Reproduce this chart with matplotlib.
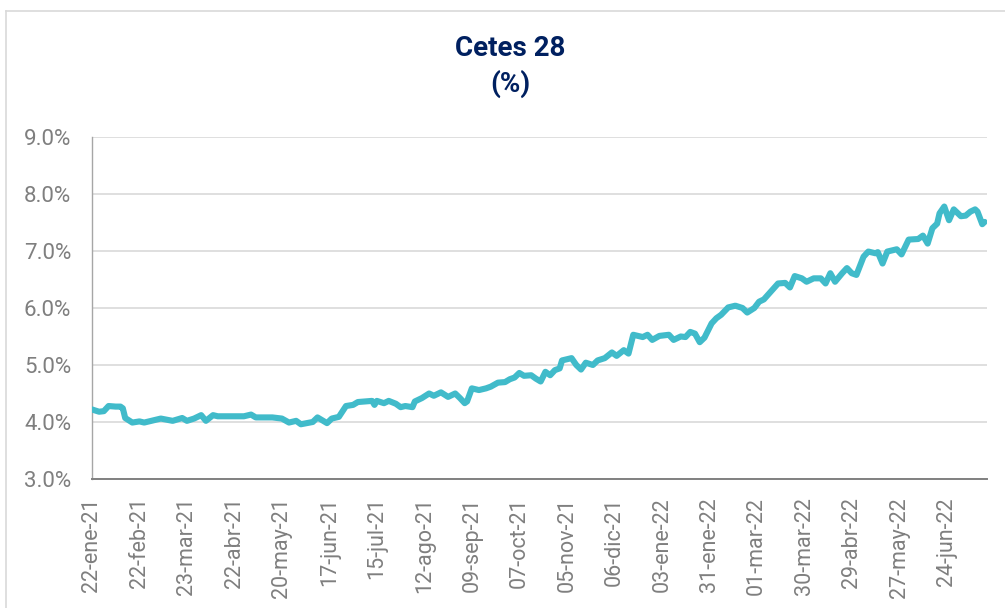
"""Cetes 28 (%) - serie diaria, eje por observación (días hábiles)."""
import matplotlib
matplotlib.use("Agg")
import matplotlib.pyplot as plt
from matplotlib.lines import Line2D

# ---- datos ----
# índice de observación (día hábil desde 22-ene-21) y tasa en %
obs = [0, 3, 5, 7, 10, 12, 13, 14, 17, 20, 22, 25, 29, 34, 38, 40, 43, 46, 48, 51,
       53, 64, 67, 69, 76, 80, 83, 86, 88, 93, 95, 99, 101, 104, 107, 110, 112, 115,
       118, 119, 120, 123, 125, 128, 130, 132, 135, 136, 139, 142, 144, 147, 150,
       153, 155, 157, 158, 160, 163, 166, 168, 171, 174, 176, 178, 180, 182, 185,
       187, 189, 191, 193, 195, 197, 198, 202, 204, 206, 208, 211, 213, 216, 219,
       221, 224, 226, 228, 232, 234, 236, 239, 243, 245, 248, 250, 252, 254, 256,
       258, 261, 263, 265, 268, 271, 274, 276, 279, 281, 283, 286, 289, 292, 294,
       296, 299, 301, 304, 307, 309, 311, 313, 316, 318, 320, 322, 325, 327, 330,
       331, 333, 335, 339, 341, 344, 348, 350, 352, 354, 356, 357, 359, 361, 363,
       366, 368, 370, 372, 373, 375, 376]
tasa = [4.22, 4.18, 4.19, 4.28, 4.27, 4.27, 4.24, 4.07, 3.99, 4.01, 3.99, 4.02, 4.06,
        4.02, 4.07, 4.02, 4.06, 4.12, 4.02, 4.12, 4.10, 4.10, 4.13, 4.08, 4.08, 4.06,
        3.99, 4.02, 3.96, 4.00, 4.08, 3.98, 4.06, 4.09, 4.28, 4.30, 4.35, 4.36, 4.37,
        4.30, 4.37, 4.33, 4.37, 4.32, 4.26, 4.28, 4.26, 4.36, 4.42, 4.50, 4.46, 4.52,
        4.44, 4.50, 4.42, 4.33, 4.36, 4.59, 4.56, 4.59, 4.62, 4.69, 4.70, 4.75, 4.78,
        4.86, 4.81, 4.82, 4.76, 4.71, 4.88, 4.82, 4.91, 4.94, 5.08, 5.12, 5.00, 4.92,
        5.04, 5.00, 5.08, 5.12, 5.22, 5.16, 5.26, 5.20, 5.53, 5.49, 5.53, 5.44, 5.51,
        5.53, 5.44, 5.50, 5.49, 5.58, 5.55, 5.40, 5.48, 5.73, 5.82, 5.88, 6.01, 6.04,
        6.00, 5.92, 6.00, 6.11, 6.15, 6.29, 6.43, 6.44, 6.36, 6.56, 6.52, 6.46, 6.52,
        6.52, 6.43, 6.61, 6.46, 6.61, 6.70, 6.61, 6.58, 6.90, 6.99, 6.96, 6.98, 6.78,
        6.99, 7.03, 6.94, 7.20, 7.21, 7.27, 7.13, 7.40, 7.48, 7.66, 7.78, 7.54, 7.73,
        7.61, 7.62, 7.69, 7.73, 7.69, 7.47, 7.51]

tick_obs = [0, 20, 40, 60, 80, 100, 120, 140, 160, 180, 200, 220, 240, 260, 280,
            300, 320, 340, 360]
tick_labels = ["22-ene-21", "22-feb-21", "23-mar-21", "22-abr-21", "20-may-21",
               "17-jun-21", "15-jul-21", "12-ago-21", "09-sep-21", "07-oct-21",
               "05-nov-21", "06-dic-21", "03-ene-22", "31-ene-22", "01-mar-22",
               "30-mar-22", "29-abr-22", "27-may-22", "24-jun-22"]
y_ticks = [3, 4, 5, 6, 7, 8, 9]

LINE = "#41BBCA"
NAVY = "#002060"
GRAY = "#7f7f7f"

plt.rcParams["font.family"] = ["Roboto", "DejaVu Sans"]

fig = plt.figure(figsize=(10.05, 6.08), dpi=100)
ax = fig.add_axes([0.0915, 0.2122, 0.8906, 0.5625])

ax.plot(obs, tasa, color=LINE, lw=4.4, solid_capstyle="round", solid_joinstyle="round",
        zorder=3)

ax.set_xlim(0, 377)
ax.set_ylim(3, 9)
ax.set_yticks(y_ticks)
ax.set_yticklabels([f"{v:.1f}%" for v in y_ticks])
ax.set_xticks(tick_obs)
ax.set_xticklabels(tick_labels, rotation=90)
ax.tick_params(axis="y", length=0, pad=15, labelsize=16, labelcolor=GRAY)
ax.tick_params(axis="x", length=0, pad=13, labelsize=15.5, labelcolor=GRAY)

ax.grid(axis="y", color="#d9d9d9", lw=1.2)
ax.set_axisbelow(True)
for s in ("top", "right"):
    ax.spines[s].set_visible(False)
ax.spines["left"].set_color("#a6a6a6")
ax.spines["left"].set_linewidth(1.0)
ax.spines["bottom"].set_color("#808080")
ax.spines["bottom"].set_linewidth(1.4)

# titulo
fig.text(510 / 1005, 1 - 48 / 608, "Cetes 28", ha="center", va="center",
         fontsize=20, fontweight="bold", color=NAVY)
fig.text(510 / 1005, 1 - 84 / 608, "(%)", ha="center", va="center",
         fontsize=20, fontweight="bold", color=NAVY)

# marco exterior (recortado a la derecha y abajo)
fig.add_artist(Line2D([6 / 1005, 1], [1 - 11 / 608] * 2, transform=fig.transFigure,
                      color="#d9d9d9", lw=1.2))
fig.add_artist(Line2D([6 / 1005] * 2, [0, 1 - 11 / 608], transform=fig.transFigure,
                      color="#d9d9d9", lw=1.2))

fig.savefig("out.png", dpi=100)
